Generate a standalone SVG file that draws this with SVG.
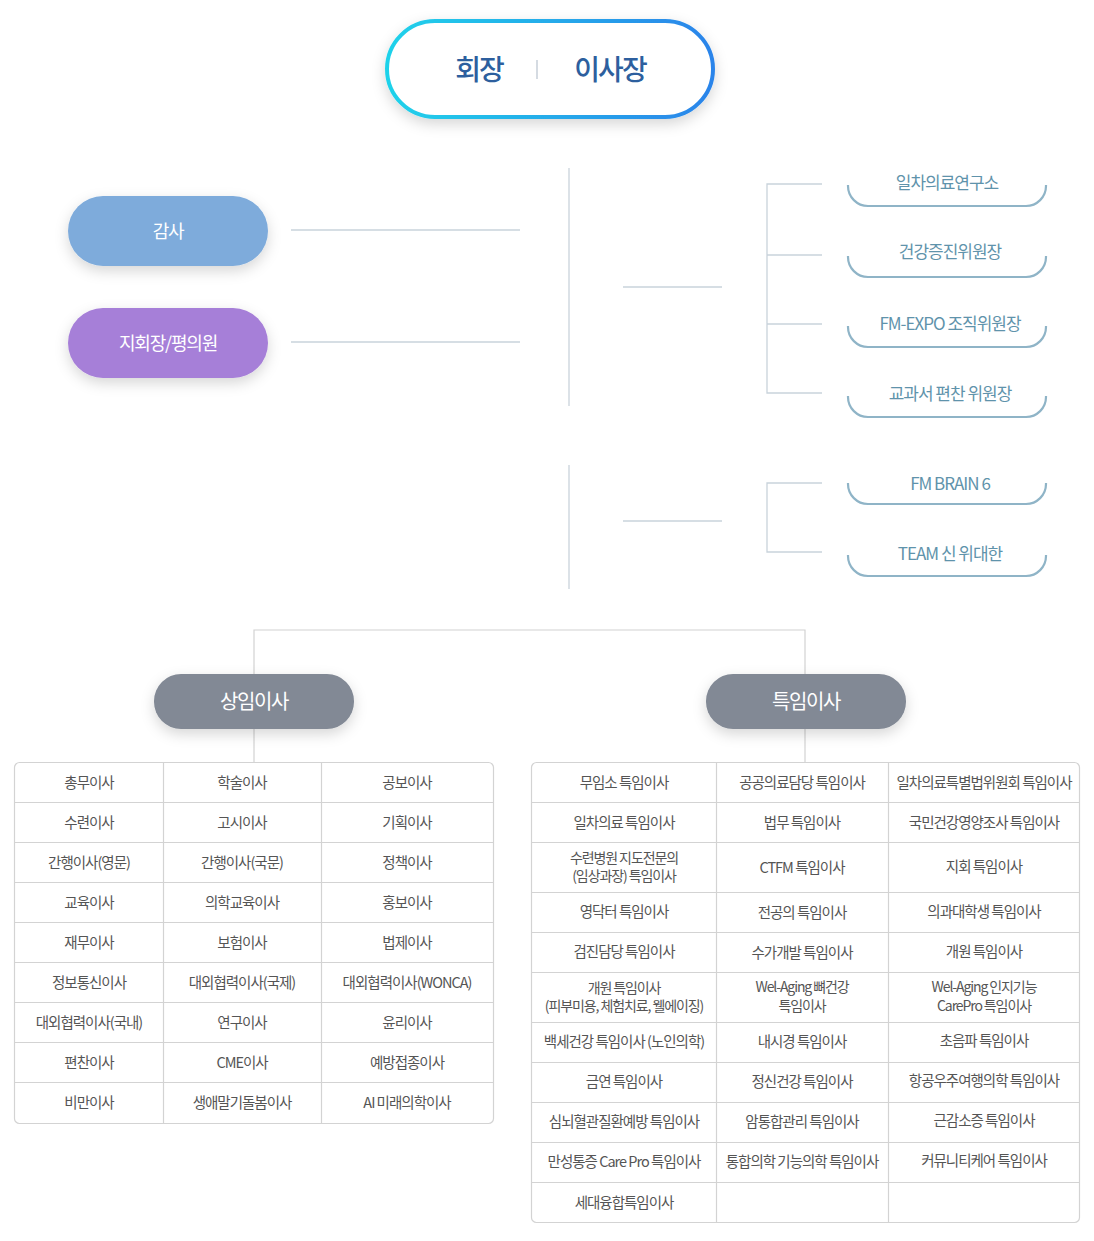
<svg xmlns="http://www.w3.org/2000/svg" width="1094" height="1241" viewBox="0 0 1094 1241">
<defs>
<linearGradient id="g1" x1="0" y1="0" x2="1" y2="0">
<stop offset="0" stop-color="#1fd2ea"/>
<stop offset="1" stop-color="#2b84ea"/>
</linearGradient>
<filter id="sh" x="-30%" y="-40%" width="160%" height="200%">
<feDropShadow dx="0" dy="5" stdDeviation="7" flood-color="#000" flood-opacity="0.16"/>
</filter>
<style>
text{font-family:"Noto Sans CJK KR","Noto Sans",sans-serif;text-anchor:middle}
.hd{font-size:28px;font-weight:500;fill:#2d5f9e;letter-spacing:-2px}
.pl{font-size:18px;fill:#fff;letter-spacing:-1.2px}
.gp{font-size:20px;fill:#fff;letter-spacing:-1.4px}
.up{font-size:17px;fill:#5f93ab;letter-spacing:-1.0px}
.uc{fill:none;stroke:#8fb4c7;stroke-width:2.2}
.ln{stroke:#c9d3db;stroke-width:1.3;fill:none}
.gl{stroke:#d2d2d2;stroke-width:1.2;fill:none}
.tb{fill:#fff;stroke:#d3d3d3;stroke-width:1.2}
.tl{stroke:#d3d3d3;stroke-width:1.2}
.t{font-size:14.5px;fill:#555;letter-spacing:-1.0px}
.t2{font-size:14px;fill:#555;letter-spacing:-1.1px}
</style>
</defs>

<g id="connectors">
<line class="ln" x1="291" y1="230" x2="520" y2="230"/>
<line class="ln" x1="291" y1="342" x2="520" y2="342"/>
<line class="ln" x1="569" y1="168" x2="569" y2="406"/>
<line class="ln" x1="623" y1="287" x2="722" y2="287"/>
<path class="ln" d="M822 184 H767 V393 H822 M767 255 H822 M767 324 H822"/>
<line class="ln" x1="569" y1="465" x2="569" y2="589"/>
<line class="ln" x1="623" y1="521" x2="722" y2="521"/>
<path class="ln" d="M822 483 H767 V552 H822"/>
<path class="gl" d="M254 762 V630 H805 V762"/>
</g>

<g id="node-top">
<rect x="387" y="21" width="326" height="96" rx="48" fill="#fff" stroke="url(#g1)" stroke-width="4" filter="url(#sh)"/>
<text class="hd" x="479" y="80">회장</text>
<line x1="537" y1="60" x2="537" y2="79" stroke="#b9c3cf" stroke-width="1.2"/>
<text class="hd" x="610" y="80">이사장</text>
</g>

<g id="node-gamsa">
<rect x="68" y="196" width="200" height="70" rx="35" fill="#7eabdb" filter="url(#sh)"/>
<text class="pl" x="168" y="238">감사</text>
</g>
<g id="node-jihoe">
<rect x="68" y="308" width="200" height="70" rx="35" fill="#a67fd8" filter="url(#sh)"/>
<text class="pl" x="168" y="350">지회장/평의원</text>
</g>

<g id="node-r1">
<path class="uc" d="M848 185 v1 a20 20 0 0 0 20 20 h158 a20 20 0 0 0 20 -20 v-1"/>
<text class="up" x="947" y="189">일차의료연구소</text>
</g>
<g id="node-r2">
<path class="uc" d="M848 256 v1 a20 20 0 0 0 20 20 h158 a20 20 0 0 0 20 -20 v-1"/>
<text class="up" x="950" y="258">건강증진위원장</text>
</g>
<g id="node-r3">
<path class="uc" d="M848 326 v1 a20 20 0 0 0 20 20 h158 a20 20 0 0 0 20 -20 v-1"/>
<text class="up" x="950" y="330">FM-EXPO 조직위원장</text>
</g>
<g id="node-r4">
<path class="uc" d="M848 396 v1 a20 20 0 0 0 20 20 h158 a20 20 0 0 0 20 -20 v-1"/>
<text class="up" x="950" y="400">교과서 편찬 위원장</text>
</g>
<g id="node-r5">
<path class="uc" d="M848 483 v1 a20 20 0 0 0 20 20 h158 a20 20 0 0 0 20 -20 v-1"/>
<text class="up" x="950" y="490">FM BRAIN 6</text>
</g>
<g id="node-r6">
<path class="uc" d="M848 555 v1 a20 20 0 0 0 20 20 h158 a20 20 0 0 0 20 -20 v-1"/>
<text class="up" x="950" y="560">TEAM 신 위대한</text>
</g>

<g id="node-sangim">
<rect x="154" y="674" width="200" height="55" rx="27" fill="#828995" filter="url(#sh)"/>
<text class="gp" x="254" y="709">상임이사</text>
</g>
<g id="node-teukim">
<rect x="706" y="674" width="200" height="55" rx="27" fill="#828995" filter="url(#sh)"/>
<text class="gp" x="806" y="709">특임이사</text>
</g>

<g id="table-sangim">
<rect class="tb" x="14.5" y="762.5" width="479" height="361" rx="5"/>
<path class="tl" d="M163.5 762.5 V1123.5 M321.5 762.5 V1123.5 M14.5 802.5 H493.5 M14.5 842.5 H493.5 M14.5 882.5 H493.5 M14.5 922.5 H493.5 M14.5 962.5 H493.5 M14.5 1002.5 H493.5 M14.5 1042.5 H493.5 M14.5 1082.5 H493.5"/>
<text class="t" x="89" y="788">총무이사</text><text class="t" x="242" y="788">학술이사</text><text class="t" x="407" y="788">공보이사</text>
<text class="t" x="89" y="828">수련이사</text><text class="t" x="242" y="828">고시이사</text><text class="t" x="407" y="828">기획이사</text>
<text class="t" x="89" y="868">간행이사(영문)</text><text class="t" x="242" y="868">간행이사(국문)</text><text class="t" x="407" y="868">정책이사</text>
<text class="t" x="89" y="908">교육이사</text><text class="t" x="242" y="908">의학교육이사</text><text class="t" x="407" y="908">홍보이사</text>
<text class="t" x="89" y="948">재무이사</text><text class="t" x="242" y="948">보험이사</text><text class="t" x="407" y="948">법제이사</text>
<text class="t" x="89" y="988">정보통신이사</text><text class="t" x="242" y="988">대외협력이사(국제)</text><text class="t" x="407" y="988">대외협력이사(WONCA)</text>
<text class="t" x="89" y="1028">대외협력이사(국내)</text><text class="t" x="242" y="1028">연구이사</text><text class="t" x="407" y="1028">윤리이사</text>
<text class="t" x="89" y="1068">편찬이사</text><text class="t" x="242" y="1068">CME이사</text><text class="t" x="407" y="1068">예방접종이사</text>
<text class="t" x="89" y="1108">비만이사</text><text class="t" x="242" y="1108">생애말기돌봄이사</text><text class="t" x="407" y="1108">AI 미래의학이사</text>
</g>

<g id="table-teukim">
<rect class="tb" x="531.5" y="762.5" width="548" height="460" rx="5"/>
<path class="tl" d="M716.5 762.5 V1222.5 M888.5 762.5 V1222.5 M531.5 802.5 H1079.5 M531.5 842.5 H1079.5 M531.5 892.5 H1079.5 M531.5 932.5 H1079.5 M531.5 972.5 H1079.5 M531.5 1022.5 H1079.5 M531.5 1062.5 H1079.5 M531.5 1102.5 H1079.5 M531.5 1142.5 H1079.5 M531.5 1182.5 H1079.5"/>
<text class="t" x="624" y="788">무임소 특임이사</text><text class="t" x="802" y="788">공공의료담당 특임이사</text><text class="t" x="984" y="788">일차의료특별법위원회 특임이사</text>
<text class="t" x="624" y="828">일차의료 특임이사</text><text class="t" x="802" y="828">법무 특임이사</text><text class="t" x="984" y="828">국민건강영양조사 특임이사</text>
<text class="t2" x="624" y="863">수련병원 지도전문의</text><text class="t2" x="624" y="881">(임상과장) 특임이사</text><text class="t" x="802" y="873">CTFM 특임이사</text><text class="t" x="984" y="872">지회 특임이사</text>
<text class="t" x="624" y="917">영닥터 특임이사</text><text class="t" x="802" y="918">전공의 특임이사</text><text class="t" x="984" y="917">의과대학생 특임이사</text>
<text class="t" x="624" y="957">검진담당 특임이사</text><text class="t" x="802" y="958">수가개발 특임이사</text><text class="t" x="984" y="957">개원 특임이사</text>
<text class="t2" x="624" y="993">개원 특임이사</text><text class="t2" x="624" y="1011">(피부미용, 체험치료, 웰에이징)</text><text class="t2" x="802" y="992">Wel-Aging 뼈건강</text><text class="t2" x="802" y="1011">특임이사</text><text class="t2" x="984" y="992">Wel-Aging 인지기능</text><text class="t2" x="984" y="1011">CarePro 특임이사</text>
<text class="t" x="624" y="1047">백세건강 특임이사 (노인의학)</text><text class="t" x="802" y="1047">내시경 특임이사</text><text class="t" x="984" y="1046">초음파 특임이사</text>
<text class="t" x="624" y="1087">금연 특임이사</text><text class="t" x="802" y="1087">정신건강 특임이사</text><text class="t" x="984" y="1086">항공우주여행의학 특임이사</text>
<text class="t" x="624" y="1127">심뇌혈관질환예방 특임이사</text><text class="t" x="802" y="1127">암통합관리 특임이사</text><text class="t" x="984" y="1126">근감소증 특임이사</text>
<text class="t" x="624" y="1167">만성통증 Care Pro 특임이사</text><text class="t" x="802" y="1167">통합의학 기능의학 특임이사</text><text class="t" x="984" y="1166">커뮤니티케어 특임이사</text>
<text class="t" x="624" y="1208">세대융합특임이사</text>
</g>
</svg>
